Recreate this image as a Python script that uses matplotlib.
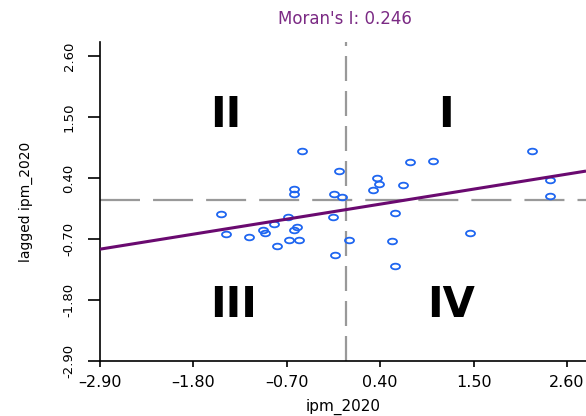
"""Moran scatter plot of ipm_2020 against its spatial lag."""

import matplotlib
matplotlib.use("Agg")
import matplotlib.pyplot as plt
from matplotlib.path import Path
from matplotlib.transforms import Affine2D
from matplotlib.ticker import FixedLocator, FixedFormatter

plt.rcParams["font.family"] = "DejaVu Sans"
plt.rcParams["lines.scale_dashes"] = False

# ---- data ----
ipm_2020 = [-0.52, -0.08, -0.61, -0.61, -0.14, -0.05, -1.47, -0.69, -0.16,
            -0.85, -0.98, -0.96, -0.58, -0.61, -1.42, -1.15, -0.67, -0.56,
            -0.82, 0.03, -0.13, 0.75, 1.02, 0.36, 0.39, 0.31, 0.67, 0.57,
            1.46, 0.54, 0.58, 2.19, 2.40, 2.40]
lagged_ipm_2020 = [0.89, 0.53, 0.20, 0.11, 0.12, 0.06, -0.25, -0.30, -0.31,
                   -0.43, -0.54, -0.60, -0.48, -0.54, -0.61, -0.66, -0.72, -0.72,
                   -0.82, -0.72, -0.98, 0.68, 0.71, 0.40, 0.29, 0.18, 0.27, -0.23,
                   -0.59, -0.74, -1.19, 0.89, 0.36, 0.08]
moran_i = 0.246
intercept = -0.17
ticks = [-2.90, -1.80, -0.70, 0.40, 1.50, 2.60]
quadrants = ["I", "II", "III", "IV"]

PURPLE = "#6a0a70"
BLUE = "#1f66f0"
GREY = "#999999"

fig = plt.figure(figsize=(5.86, 4.16), dpi=100)
ax = fig.add_axes([100 / 586, 55 / 416, 486 / 586, 319 / 416])
x0, x1 = -2.90, 2.824
y0, y1 = -2.90, 2.852
ax.set_xlim(x0, x1)
ax.set_ylim(y0, y1)

# reference lines at the means
ax.axhline(0, color=GREY, lw=1.6, dashes=(28.8, 9.4), zorder=1)
ax.axvline(0, color=GREY, lw=1.6, dashes=(18, 7.2), zorder=1)

# open, slightly wide circles
ell = Path.unit_circle().transformed(Affine2D().scale(1.6, 1.0))
ax.plot(ipm_2020, lagged_ipm_2020, linestyle="none", marker=ell,
        markersize=6.5, markerfacecolor="none", markeredgecolor=BLUE,
        markeredgewidth=1.3, zorder=3)

# regression line, slope = Moran's I
ax.plot([x0, x1], [intercept + moran_i * x0, intercept + moran_i * x1],
        color=PURPLE, lw=2.2, zorder=4, solid_capstyle="butt")

# quadrant labels
qpos = {"I": (1.172, 1.32), "II": (-1.416, 1.32),
        "III": (-1.328, -2.107), "IV": (1.231, -2.107)}
for q in quadrants:
    ax.text(*qpos[q], q, ha="center", va="baseline", fontsize=30,
            fontweight="bold", color="black")

# axes styling (R "L" box)
for side in ("top", "right"):
    ax.spines[side].set_visible(False)
for side in ("left", "bottom"):
    ax.spines[side].set_linewidth(1.2)

ax.xaxis.set_major_locator(FixedLocator(ticks))
ax.xaxis.set_major_formatter(FixedFormatter(
    [f"{t:.2f}".replace("-", "\u2013") for t in ticks]))
ax.yaxis.set_major_locator(FixedLocator(ticks))
ax.yaxis.set_major_formatter(FixedFormatter([f"{t:.2f}" for t in ticks]))
ax.tick_params(axis="x", length=4.3, width=1.2, pad=6, labelsize=11.5)
ax.tick_params(axis="y", length=8.6, width=1.2, pad=9, labelsize=9.5,
               labelrotation=90)
for lab in ax.get_yticklabels():
    lab.set_verticalalignment("center")

ax.set_xlabel("ipm_2020", fontsize=11)
ax.xaxis.set_label_coords(0.5, -0.118)
ax.set_ylabel("lagged ipm_2020", fontsize=10)
ax.yaxis.set_label_coords(-0.138, 0.5)

fig.text(345 / 586, 1 - 24 / 416, f"Moran's I: {moran_i:.3f}", ha="center",
         va="baseline", fontsize=12, color="#7b2a84")

fig.savefig("out.png", dpi=100)
